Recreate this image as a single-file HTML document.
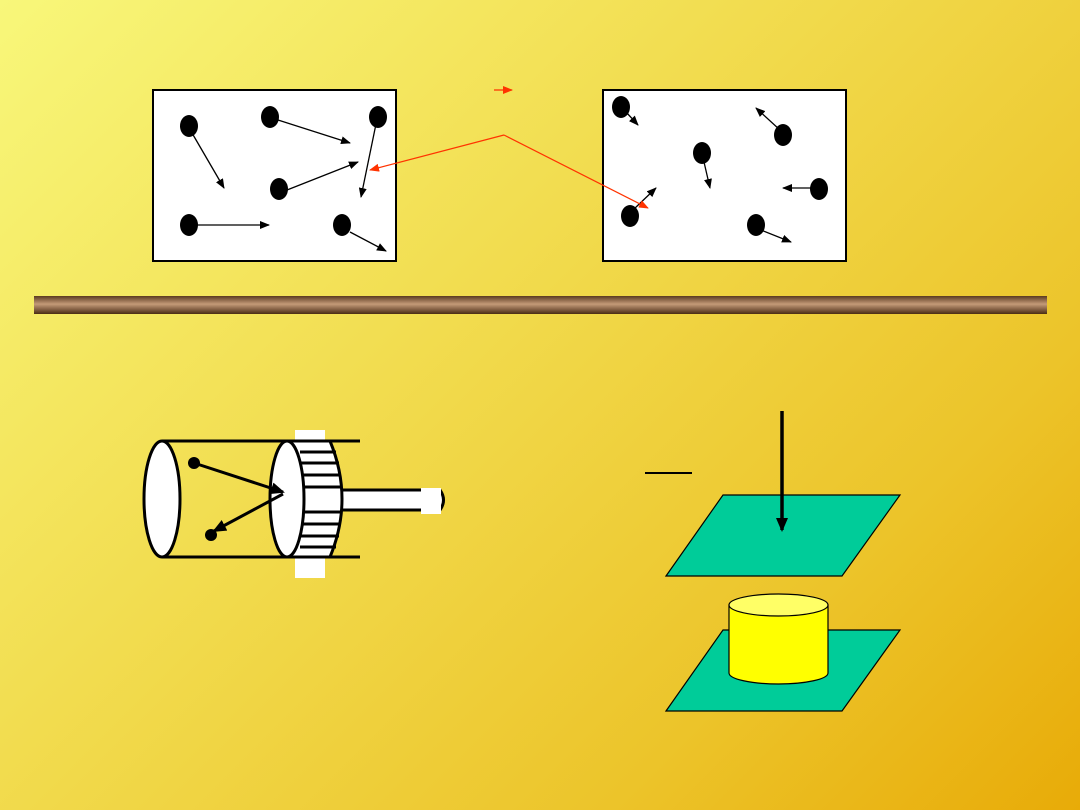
<!DOCTYPE html>
<html><head><style>
html,body{margin:0;padding:0;}
body{width:1080px;height:810px;background:linear-gradient(135deg,#f8f77a 0%,#f1d94a 45%,#ecc42a 75%,#e8ab08 100%);overflow:hidden;}
</style></head><body>
<svg width="1080" height="810" xmlns="http://www.w3.org/2000/svg" style="position:absolute;left:0;top:0">
<defs>
<marker id="a" markerWidth="10" markerHeight="8" refX="9" refY="4" orient="auto" markerUnits="userSpaceOnUse"><path d="M0,0 L10,4 L0,8z" fill="#000"/></marker>
<marker id="r" markerWidth="10" markerHeight="8" refX="9" refY="4" orient="auto" markerUnits="userSpaceOnUse"><path d="M0,0 L10,4 L0,8z" fill="#ff3300"/></marker>
<marker id="b" markerWidth="14" markerHeight="12" refX="12" refY="6" orient="auto" markerUnits="userSpaceOnUse"><path d="M0,0 L14,6 L0,12z" fill="#000"/></marker>
<linearGradient id="bar" x1="0" y1="0" x2="0" y2="1"><stop offset="0" stop-color="#5a3a20"/><stop offset="0.45" stop-color="#c49a78"/><stop offset="1" stop-color="#4a2c14"/></linearGradient>
</defs>
<rect x="153" y="90" width="243" height="171" fill="#fff" stroke="#000" stroke-width="2"/>
<rect x="603" y="90" width="243" height="171" fill="#fff" stroke="#000" stroke-width="2"/>
<g fill="#000">
<ellipse cx="189" cy="126" rx="9" ry="11"/><ellipse cx="270" cy="117" rx="9" ry="11"/><ellipse cx="378" cy="117" rx="9" ry="11"/>
<ellipse cx="279" cy="189" rx="9" ry="11"/><ellipse cx="189" cy="225" rx="9" ry="11"/><ellipse cx="342" cy="225" rx="9" ry="11"/>
<ellipse cx="621" cy="107" rx="9" ry="11"/><ellipse cx="783" cy="135" rx="9" ry="11"/><ellipse cx="702" cy="153" rx="9" ry="11"/>
<ellipse cx="819" cy="189" rx="9" ry="11"/><ellipse cx="630" cy="216" rx="9" ry="11"/><ellipse cx="756" cy="225" rx="9" ry="11"/>
</g>
<g stroke="#000" stroke-width="1.3" marker-end="url(#a)">
<line x1="192" y1="133" x2="224" y2="188"/><line x1="278" y1="120" x2="350" y2="143"/>
<line x1="376" y1="124" x2="361" y2="197"/><line x1="287" y1="190" x2="358" y2="162"/>
<line x1="196" y1="225" x2="269" y2="225"/><line x1="350" y1="232" x2="386" y2="251"/>
<line x1="626" y1="112" x2="638" y2="125"/><line x1="780" y1="130" x2="756" y2="108"/>
<line x1="704" y1="162" x2="710" y2="188"/><line x1="812" y1="188" x2="783" y2="188"/>
<line x1="634" y1="209" x2="656" y2="188"/><line x1="761" y1="230" x2="791" y2="242"/>
</g>
<g stroke="#ff3300" stroke-width="1.2" marker-end="url(#r)" fill="none">
<line x1="504" y1="135" x2="370" y2="170"/><line x1="504" y1="135" x2="648" y2="208"/>
<line x1="494" y1="90" x2="512" y2="90"/>
</g>
<rect x="34" y="296" width="1013" height="18" fill="url(#bar)"/>
<!-- piston -->
<rect x="295" y="430" width="30" height="12" fill="#fff"/><rect x="295" y="557" width="30" height="21" fill="#fff"/>
<line x1="162" y1="441" x2="360" y2="441" stroke="#000" stroke-width="3"/>
<line x1="162" y1="557" x2="360" y2="557" stroke="#000" stroke-width="3"/>
<path d="M340,490 L440,490 Q447,500 440,510 L340,510" fill="#fff" stroke="#000" stroke-width="3"/>
<rect x="421" y="488" width="20" height="26" fill="#fff"/>
<ellipse cx="162" cy="499" rx="18" ry="58" fill="#fff" stroke="#000" stroke-width="3"/>
<path d="M287,441 L330,441 Q342,470 342,499 Q342,528 330,557 L287,557z" fill="#fff" stroke="#000" stroke-width="3"/>
<g stroke="#000" stroke-width="3">
<line x1="300" y1="452" x2="336" y2="452"/><line x1="300" y1="463" x2="339" y2="463"/><line x1="300" y1="475" x2="341" y2="475"/>
<line x1="300" y1="487" x2="342" y2="487"/><line x1="300" y1="512" x2="342" y2="512"/><line x1="300" y1="524" x2="341" y2="524"/>
<line x1="300" y1="536" x2="339" y2="536"/><line x1="300" y1="547" x2="336" y2="547"/>
</g>
<ellipse cx="287" cy="499" rx="17" ry="58" fill="#fff" stroke="#000" stroke-width="3"/>
<circle cx="194" cy="463" r="6" fill="#000"/><circle cx="211" cy="535" r="6" fill="#000"/>
<line x1="194" y1="463" x2="283" y2="492" stroke="#000" stroke-width="3" marker-end="url(#b)"/>
<line x1="283" y1="494" x2="214" y2="531" stroke="#000" stroke-width="3" marker-end="url(#b)"/>
<!-- right -->
<line x1="645" y1="473" x2="692" y2="473" stroke="#000" stroke-width="2"/>
<polygon points="666,576 723,495 900,495 842,576" fill="#00cc99" stroke="#000" stroke-width="1.2"/>
<polygon points="666,711 723,630 900,630 842,711" fill="#00cc99" stroke="#000" stroke-width="1.2"/>
<path d="M729,605 L729,673 A49.5,11 0 0 0 828,673 L828,605" fill="#ffff00" stroke="#000" stroke-width="1.2"/>
<ellipse cx="778.5" cy="605" rx="49.5" ry="11" fill="#ffff66" stroke="#000" stroke-width="1.2"/>
<line x1="782" y1="411" x2="782" y2="530" stroke="#000" stroke-width="3.5" marker-end="url(#b)"/>
</svg>
</body></html>
